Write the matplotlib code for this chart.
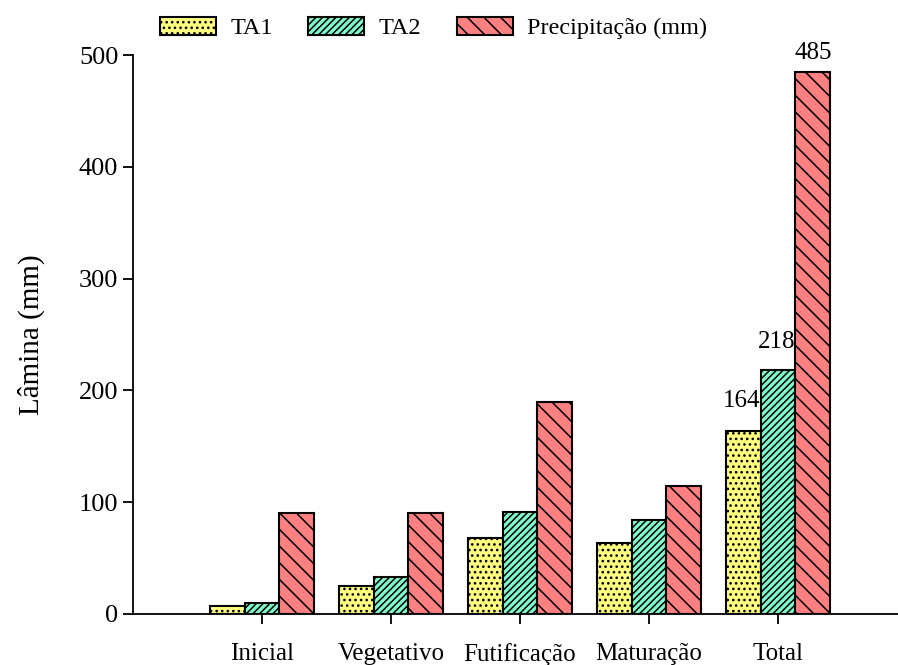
import numpy as np
import matplotlib.pyplot as plt
import matplotlib as mpl

plt.rcParams['font.family'] = ['Liberation Serif', 'DejaVu Serif']
plt.rcParams['hatch.linewidth'] = 1.1

# dados
fases = ['Inicial', 'Vegetativo', 'Futificação', 'Maturação', 'Total']
ta1 = [7, 25, 68, 63, 164]
ta2 = [10, 33, 91, 84, 218]
precip = [90, 90, 190, 114, 485]
series = ['TA1', 'TA2', 'Precipitação (mm)']

cores = ['#FFFF80', '#80FFCC', '#FF8080']
hatches = ['...', '/////', '\\\\']

fig = plt.figure(figsize=(8.98, 6.65), dpi=100)
ax = fig.add_axes([0.148, 0.077, 0.852, 0.84])

x = np.arange(1, len(fases) + 1)
w = 0.27
for i, vals in enumerate([ta1, ta2, precip]):
    ax.bar(x + (i - 1) * w, vals, w, color=cores[i], hatch=hatches[i],
           edgecolor='black', linewidth=1.5, label=series[i])

# rotulos da barra Total
ax.text(x[-1] - w / 2, ta1[-1] + 17, '%d' % ta1[-1], ha='right', va='bottom', fontsize=18)
ax.text(x[-1] + w / 2, ta2[-1] + 15, '%d' % ta2[-1], ha='right', va='bottom', fontsize=18)
ax.text(x[-1] + w, precip[-1] + 7, '%d' % precip[-1], ha='center', va='bottom', fontsize=18)

ax.set_xlim(0, 5.93)
ax.set_ylim(0, 500)
ax.set_yticks(np.arange(0, 501, 100))
ax.set_xticks(x)
ax.set_xticklabels(fases)
ax.tick_params(axis='both', labelsize=19, direction='out', length=7, width=1.3)
ax.tick_params(axis='x', pad=14, labelsize=18)
ax.spines['top'].set_visible(False)
ax.spines['right'].set_visible(False)
ax.spines['left'].set_linewidth(1.3)
ax.spines['bottom'].set_linewidth(1.3)
ax.set_ylabel('Lâmina (mm)', fontsize=21, labelpad=24)

fig.legend(loc='center', bbox_to_anchor=(0.483, 0.958), ncol=3, frameon=False,
           fontsize=17.5, handlelength=2.3, handleheight=0.75, columnspacing=1.45,
           handletextpad=0.6)

plt.savefig('out.png', dpi=100)
